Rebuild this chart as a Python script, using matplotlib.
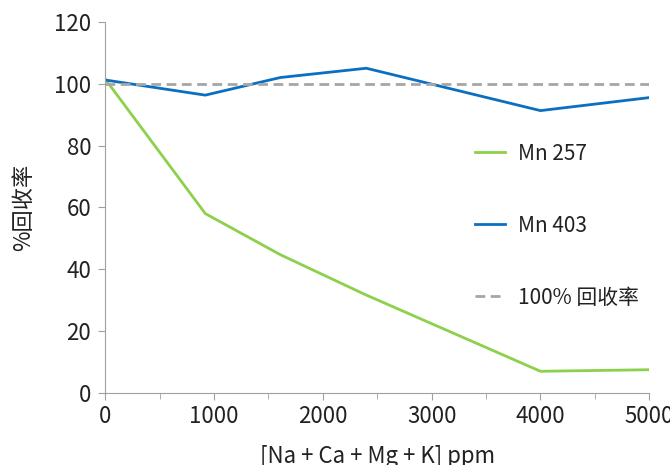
import matplotlib
matplotlib.use("Agg")
import matplotlib.pyplot as plt
from matplotlib.ticker import MultipleLocator

plt.rcParams['font.family'] = ['Noto Sans CJK SC', 'DejaVu Sans']

# data
conc_257 = [0, 920, 1610, 2390, 4000, 5000]
mn_257 = [101.5, 58.0, 44.7, 31.8, 7.0, 7.5]
conc_403 = [0, 920, 1610, 2400, 4000, 5000]
mn_403 = [101.2, 96.3, 102.0, 105.0, 91.3, 95.5]
ref_x = [0, 5000]
ref_y = [100, 100]

GREEN = "#8cd04c"
BLUE = "#0b6fc1"
GRAY = "#a6a6a6"

fig = plt.figure(figsize=(6.7, 4.65), dpi=100)
ax = fig.add_axes([0.157, 0.155, 0.812, 0.798])

ax.plot(conc_257, mn_257, color=GREEN, lw=2, label="Mn 257")
ax.plot(conc_403, mn_403, color=BLUE, lw=2, label="Mn 403")
ax.plot(ref_x, ref_y, color=GRAY, lw=2, ls=(0, (3.5, 2)), label="100% 回收率")

ax.set_xlim(0, 5000)
ax.set_ylim(0, 120)
ax.xaxis.set_major_locator(MultipleLocator(1000))
ax.xaxis.set_minor_locator(MultipleLocator(500))
ax.yaxis.set_major_locator(MultipleLocator(20))

for s in ("top", "right"):
    ax.spines[s].set_visible(False)
for s in ("left", "bottom"):
    ax.spines[s].set_color("#a0a0a0")
ax.tick_params(which="both", color="#a0a0a0", labelsize=16, labelcolor="#222222")
ax.tick_params(axis="x", which="major", length=5, pad=4)
ax.tick_params(axis="x", which="minor", length=4)
ax.tick_params(axis="y", length=5, pad=5)

ax.set_xlabel("[Na + Ca + Mg + K] ppm", fontsize=16, color="#222222", labelpad=12)
ax.set_ylabel("%回收率", fontsize=16, color="#222222", labelpad=14)

ax.legend(loc="upper left", bbox_to_anchor=(0.645, 0.725), frameon=False,
          fontsize=15, handlelength=1.45, labelspacing=2.4, handletextpad=0.6,
          labelcolor="#222222")

fig.savefig("out.png", dpi=100)
